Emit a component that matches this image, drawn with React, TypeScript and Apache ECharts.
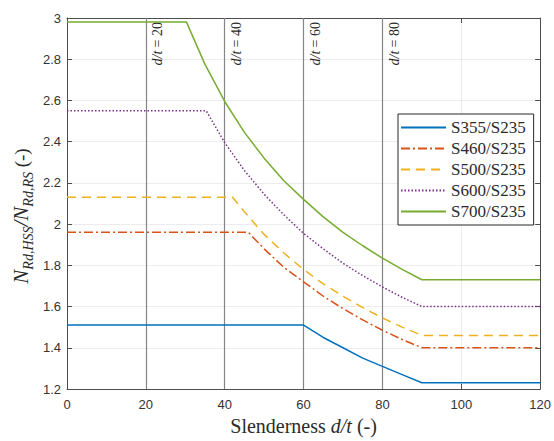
import React, { useEffect, useRef } from "react";
import * as echarts from "echarts";

// Slenderness d/t breakpoints and ratio values
const seriesNames = ["S355/S235", "S460/S235", "S500/S235", "S600/S235", "S700/S235"];

const s355X = [0, 60, 65, 70, 75, 80, 85, 90, 120];
const s355Y = [1.51, 1.51, 1.45, 1.4, 1.35, 1.31, 1.27, 1.23, 1.23];

const s460X = [0, 46, 50, 55, 60, 65, 70, 75, 80, 85, 90, 120];
const s460Y = [1.96, 1.96, 1.88, 1.79, 1.72, 1.65, 1.59, 1.535, 1.485, 1.44, 1.4, 1.4];

const s500X = [0, 42, 45, 50, 55, 60, 65, 70, 75, 80, 85, 90, 120];
const s500Y = [2.13, 2.13, 2.06, 1.95, 1.86, 1.78, 1.71, 1.65, 1.595, 1.545, 1.5, 1.46, 1.46];

const s600X = [0, 35.3, 40, 45, 50, 55, 60, 65, 70, 75, 80, 85, 90, 120];
const s600Y = [2.55, 2.55, 2.395, 2.26, 2.145, 2.045, 1.955, 1.88, 1.81, 1.75, 1.695, 1.645, 1.6, 1.6];

const s700X = [0, 30.3, 35, 40, 45, 50, 55, 60, 65, 70, 75, 80, 85, 90, 120];
const s700Y = [2.98, 2.98, 2.775, 2.595, 2.445, 2.32, 2.21, 2.12, 2.035, 1.96, 1.895, 1.835, 1.78, 1.73, 1.73];

const refLines = [20, 40, 60, 80];

const xs = [s355X, s460X, s500X, s600X, s700X];
const ys = [s355Y, s460Y, s500Y, s600Y, s700Y];
const colors = ["#0072BD", "#D95319", "#EDB120", "#7E2F8E", "#77AC30"];
const dashes: any[] = ["solid", [9, 3, 2, 3], [9, 6], [1.5, 2], "solid"];

const SERIF = "Liberation Serif";
const SANS = "Liberation Sans";
const AXIS = "#4d4d4d";
const TXT = "#2b2b2b";

export default function App() {
  const ref = useRef<HTMLDivElement>(null);
  useEffect(() => {
    if (!ref.current) return;
    const chart = echarts.init(ref.current, null, { renderer: "svg" });
    const series: any[] = seriesNames.map((name, i) => ({
      name,
      type: "line",
      symbol: "none",
      showSymbol: false,
      z: 3,
      emphasis: { disabled: true },
      data: xs[i].map((x, j) => [x, ys[i][j]]),
      lineStyle: { color: colors[i], width: 1.5, type: dashes[i] },
      itemStyle: { color: colors[i] },
    }));
    series[0].markLine = {
      silent: true,
      symbol: "none",
      z: 2,
      lineStyle: { color: "#858585", width: 1.2, type: "solid" },
      label: {
        show: true,
        position: "insideEndBottom",
        distance: [4, 5],
        formatter: (p: any) => `{i|d/t} {r|= ${p.value}}`,
        rich: {
          i: { fontFamily: SERIF, fontStyle: "italic", fontSize: 14, color: TXT },
          r: { fontFamily: SERIF, fontSize: 14, color: TXT },
        },
      },
      data: refLines.map((v) => ({ xAxis: v })),
    };
    const option: any = {
      animation: false,
      backgroundColor: "#ffffff",
      grid: { left: 67, right: 12, top: 18, bottom: 49, containLabel: false },
      graphic: [
        {
          type: "text",
          x: 21,
          y: 216,
          rotation: Math.PI / 2,
          silent: true,
          style: {
            text: "{n|N}{s|Rd,HSS}{n|/N}{s|Rd,RS}{p| (-)}",
            align: "center",
            verticalAlign: "middle",
            rich: {
              n: { fontFamily: SERIF, fontStyle: "italic", fontSize: 21, fill: TXT, lineHeight: 28 },
              s: { fontFamily: SERIF, fontStyle: "italic", fontSize: 14, fill: TXT, lineHeight: 13, verticalAlign: "bottom" },
              p: { fontFamily: SERIF, fontSize: 19, fill: TXT, lineHeight: 28 },
            },
          },
        },
      ],
      legend: {
        orient: "vertical",
        left: 398,
        top: 114,
        backgroundColor: "#ffffff",
        borderColor: "#262626",
        borderWidth: 1,
        borderRadius: 0,
        padding: [5, 8, 5, 2],
        itemWidth: 45,
        itemHeight: 14,
        itemGap: 4,
        selectedMode: false,
        itemStyle: { opacity: 0 },
        textStyle: { fontFamily: SERIF, fontSize: 17, color: TXT, lineHeight: 17 },
        data: seriesNames,
      },
      xAxis: [
        {
          type: "value",
          min: 0,
          max: 120,
          interval: 20,
          name: "{r|Slenderness }{i|d/t}{r| (-)}",
          nameLocation: "middle",
          nameGap: 27,
          nameTextStyle: {
            rich: {
              r: { fontFamily: SERIF, fontSize: 20, color: TXT },
              i: { fontFamily: SERIF, fontStyle: "italic", fontSize: 20, color: TXT },
            },
          },
          axisLine: { show: true, lineStyle: { color: AXIS, width: 1 } },
          axisTick: { show: true, inside: true, length: 5, lineStyle: { color: AXIS } },
          axisLabel: { fontFamily: SANS, fontSize: 13, color: "#333", margin: 9 },
          splitLine: { show: true, lineStyle: { color: "#ececec", width: 1 } },
        },
        {
          type: "value",
          position: "top",
          min: 0,
          max: 120,
          interval: 20,
          axisLine: { show: true, onZero: false, lineStyle: { color: AXIS, width: 1 } },
          axisTick: { show: true, inside: true, length: 5, lineStyle: { color: AXIS } },
          axisLabel: { show: false },
          splitLine: { show: false },
        },
      ],
      yAxis: [
        {
          type: "value",
          min: 1.2,
          max: 3,
          interval: 0.2,
          axisLine: { show: true, onZero: false, lineStyle: { color: AXIS, width: 1 } },
          axisTick: { show: true, inside: true, length: 5, lineStyle: { color: AXIS } },
          axisLabel: {
            fontFamily: SANS,
            fontSize: 13,
            color: "#333",
            margin: 6,
            formatter: (v: number) => String(Math.round(v * 10) / 10),
          },
          splitLine: { show: true, lineStyle: { color: "#ececec", width: 1 } },
        },
        {
          type: "value",
          position: "right",
          min: 1.2,
          max: 3,
          interval: 0.2,
          axisLine: { show: true, onZero: false, lineStyle: { color: AXIS, width: 1 } },
          axisTick: { show: true, inside: true, length: 5, lineStyle: { color: AXIS } },
          axisLabel: { show: false },
          splitLine: { show: false },
        },
      ],
      series,
    };
    chart.setOption(option);
    return () => chart.dispose();
  }, []);
  return (
    <div
      ref={ref}
      style={{ position: "fixed", left: 0, top: 0, width: 554, height: 441, background: "#fff" }}
    />
  );
}
